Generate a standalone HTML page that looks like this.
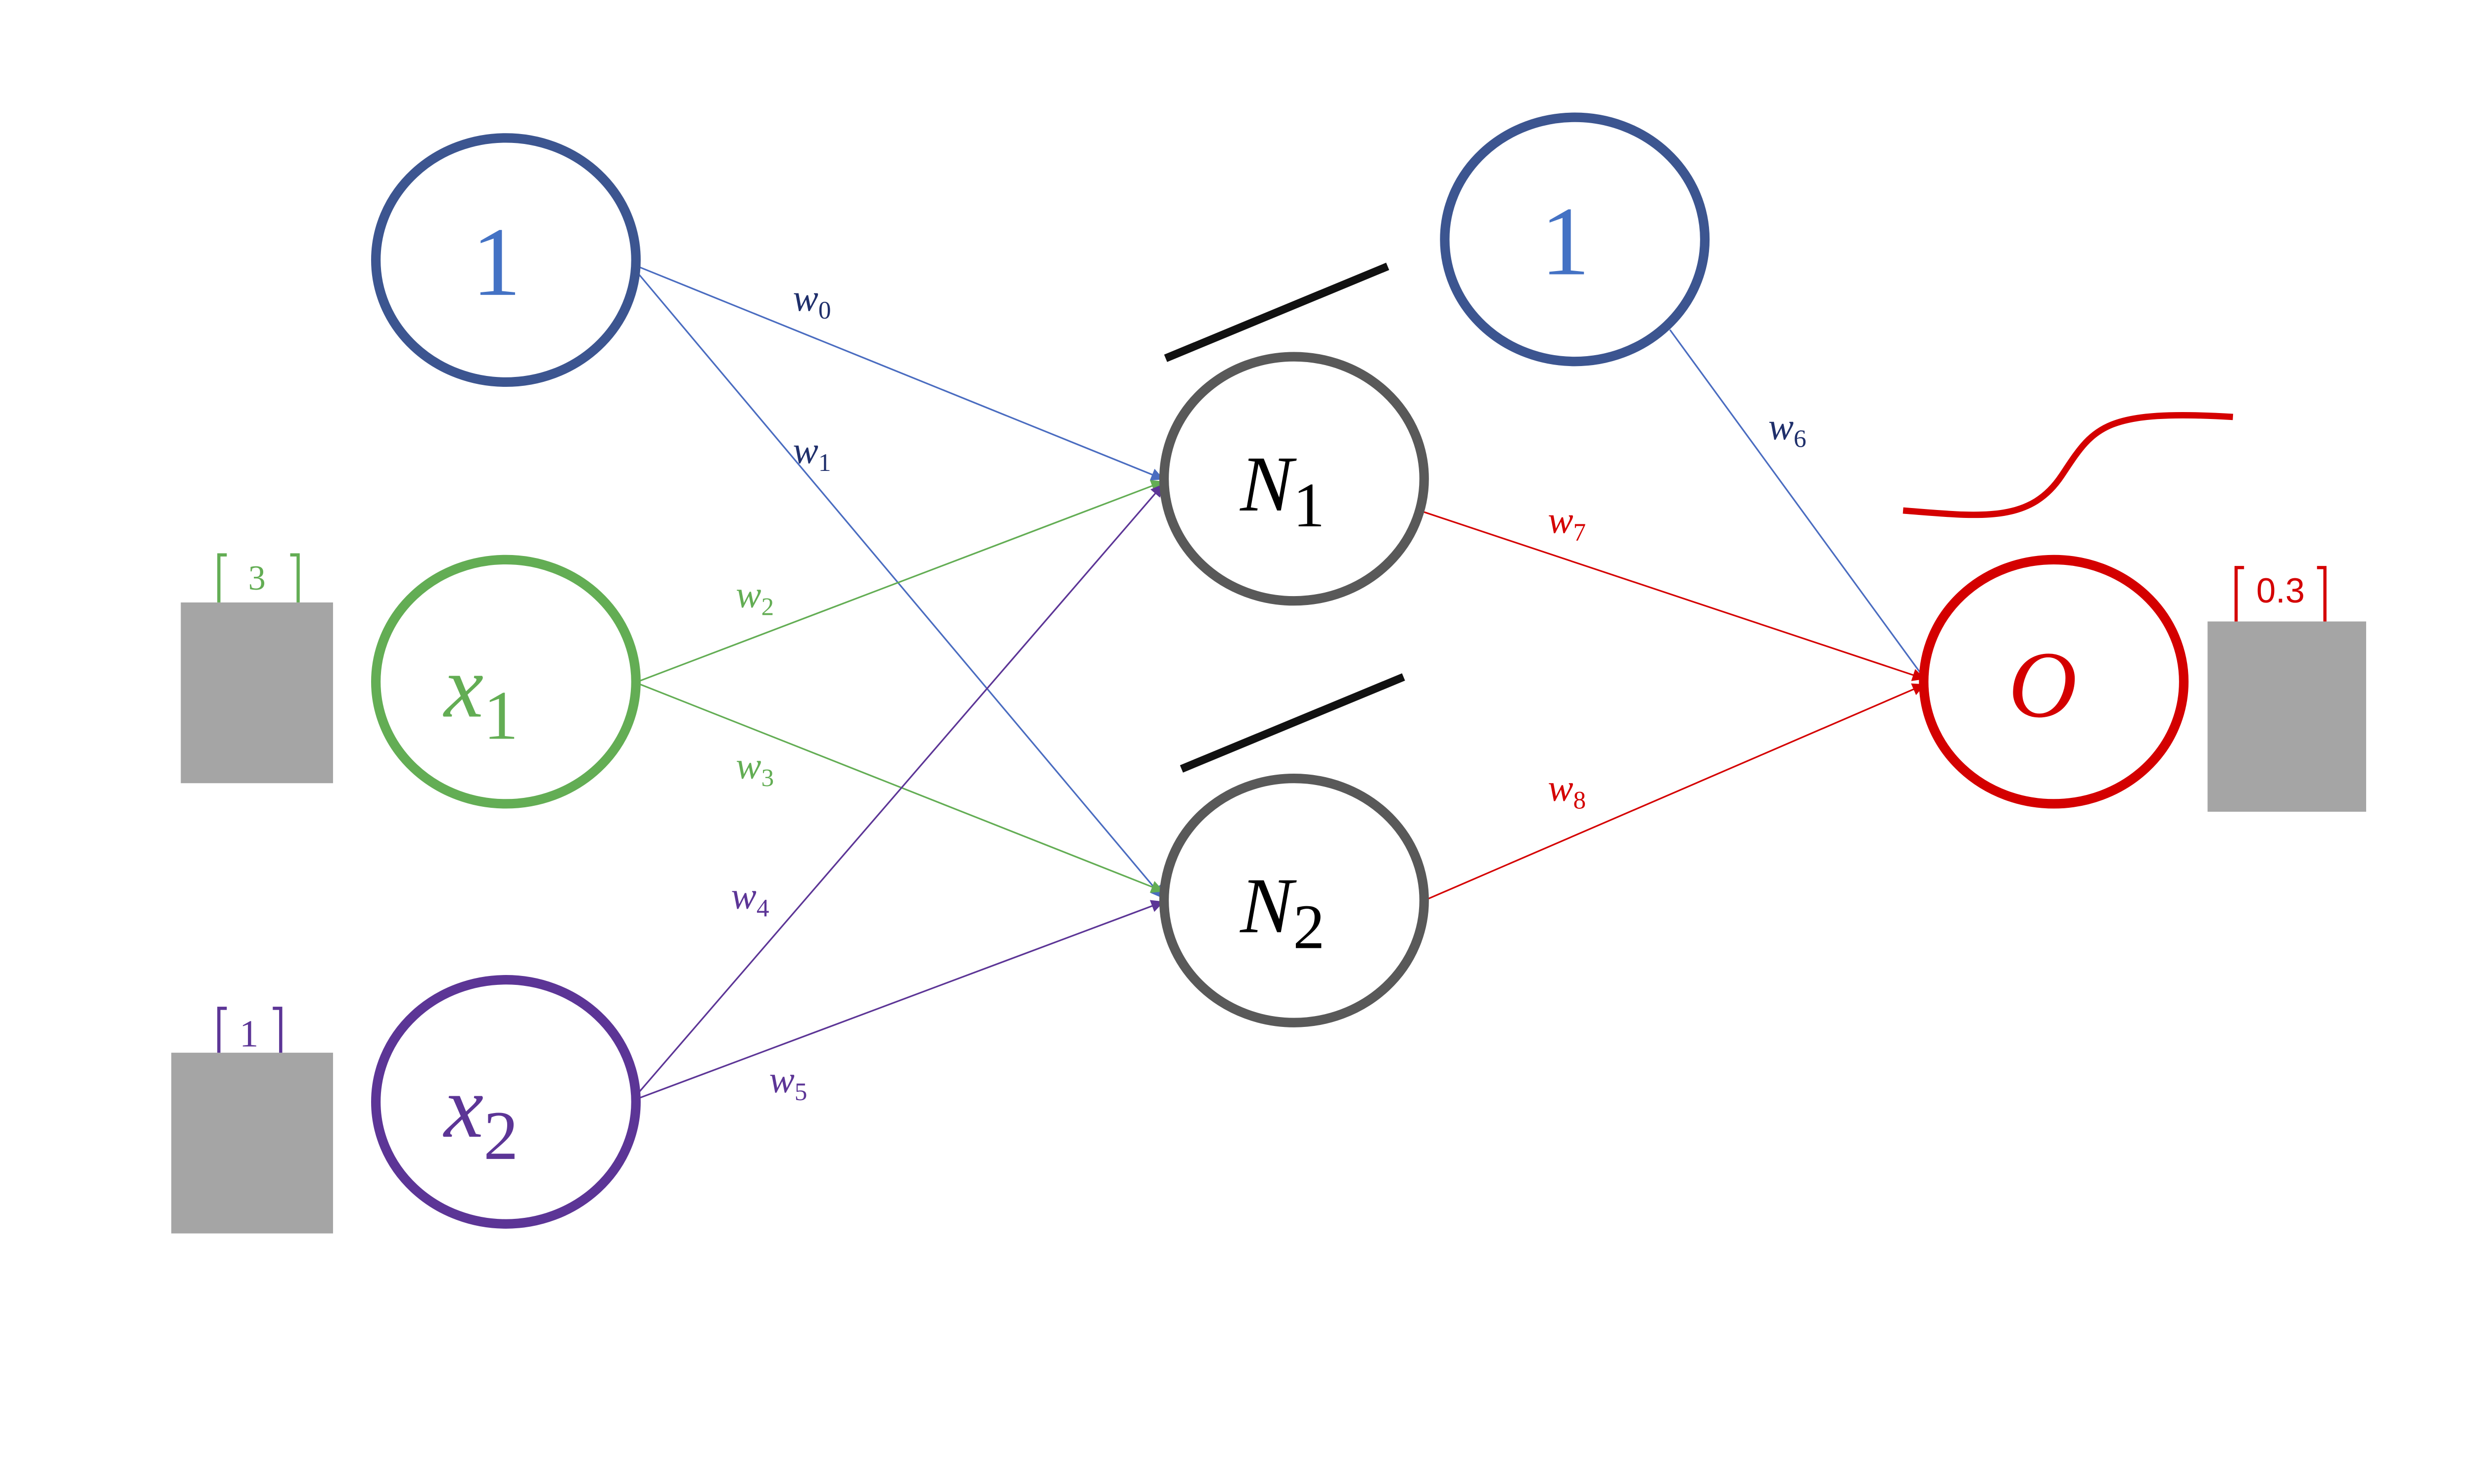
<!DOCTYPE html>
<html><head><meta charset="utf-8"><style>html,body{margin:0;padding:0;background:#fff;overflow:hidden}svg{display:block;width:100vw;height:56.254vw;position:absolute;left:0;top:0}</style></head>
<body>
<svg viewBox="0 0 1560 877.6" preserveAspectRatio="none" xmlns="http://www.w3.org/2000/svg">
<defs>
<marker id="ab" markerWidth="8" markerHeight="8" refX="7" refY="4" orient="auto" markerUnits="userSpaceOnUse"><path d="M0,0 L8,4 L0,8 z" fill="#4a6cc0"/></marker>
<marker id="ag" markerWidth="8" markerHeight="8" refX="7" refY="4" orient="auto" markerUnits="userSpaceOnUse"><path d="M0,0 L8,4 L0,8 z" fill="#63ad54"/></marker>
<marker id="ap" markerWidth="8" markerHeight="8" refX="7" refY="4" orient="auto" markerUnits="userSpaceOnUse"><path d="M0,0 L8,4 L0,8 z" fill="#5c3596"/></marker>
<marker id="ar" markerWidth="8" markerHeight="8" refX="7" refY="4" orient="auto" markerUnits="userSpaceOnUse"><path d="M0,0 L8,4 L0,8 z" fill="#d40000"/></marker>
</defs>
<rect width="1560" height="877.6" fill="#fff"/>
<rect x="114" y="380" width="96" height="114" fill="#a5a5a5"/>
<rect x="108" y="664" width="102" height="114" fill="#a5a5a5"/>
<rect x="1392" y="392" width="100" height="120" fill="#a5a5a5"/>
<path d="M143,350 H138 V380 M183,350 H188 V380" stroke="#63ad54" stroke-width="2" fill="none"/>
<text x="162" y="372" font-family="Liberation Serif, serif" font-size="22" fill="#63ad54" text-anchor="middle">3</text>
<path d="M143,636 H138 V664 M172,636 H177 V664" stroke="#5c3596" stroke-width="2" fill="none"/>
<text x="157" y="660" font-family="Liberation Serif, serif" font-size="24" fill="#5c3596" text-anchor="middle">1</text>
<path d="M1415,358 H1410 V392 M1461,358 H1466 V392" stroke="#d40000" stroke-width="2" fill="none"/>
<text x="1438" y="380" font-family="Liberation Sans, sans-serif" font-size="22" fill="#d40000" text-anchor="middle">0.3</text>
<g stroke-width="1" fill="none">
<line x1="402" y1="168" x2="733" y2="302" stroke="#4a6cc0" marker-end="url(#ab)"/>
<line x1="402" y1="172" x2="733" y2="566" stroke="#4a6cc0" marker-end="url(#ab)"/>
<line x1="402" y1="430" x2="733" y2="304" stroke="#63ad54" marker-end="url(#ag)"/>
<line x1="402" y1="431" x2="733" y2="562" stroke="#63ad54" marker-end="url(#ag)"/>
<line x1="402" y1="690" x2="733" y2="306" stroke="#5c3596" marker-end="url(#ap)"/>
<line x1="402" y1="693" x2="733" y2="569" stroke="#5c3596" marker-end="url(#ap)"/>
<line x1="1053" y1="208" x2="1215" y2="430" stroke="#4a6cc0" marker-end="url(#ab)"/>
<line x1="898" y1="323" x2="1213" y2="428" stroke="#d40000" marker-end="url(#ar)"/>
<line x1="898" y1="568" x2="1213" y2="432" stroke="#d40000" marker-end="url(#ar)"/>
</g>
<g fill="#fff" stroke-width="6">
<ellipse cx="319" cy="164" rx="82" ry="77" stroke="#3c5590"/>
<ellipse cx="319" cy="430" rx="82" ry="77" stroke="#63ad54"/>
<ellipse cx="319" cy="695" rx="82" ry="77" stroke="#5c3596"/>
<ellipse cx="816" cy="302" rx="82" ry="77" stroke="#595959"/>
<ellipse cx="816" cy="568" rx="82" ry="77" stroke="#595959"/>
<ellipse cx="993" cy="151" rx="82" ry="77" stroke="#3c5590"/>
<ellipse cx="1295" cy="430" rx="82" ry="77" stroke="#d40000"/>
</g>
<g font-family="Liberation Serif, serif">
<text x="313" y="186" font-size="62" fill="#4472c4" text-anchor="middle">1</text>
<text x="987" y="173" font-size="62" fill="#4472c4" text-anchor="middle">1</text>
<text x="280" y="452" font-size="56" font-style="italic" fill="#63ad54">x<tspan font-style="normal" font-size="44" dy="14">1</tspan></text>
<text x="280" y="717" font-size="56" font-style="italic" fill="#5c3596">x<tspan font-style="normal" font-size="44" dy="14">2</tspan></text>
<text x="782" y="322" font-size="50" font-style="italic" fill="#000">N<tspan font-style="normal" font-size="40" dy="10">1</tspan></text>
<text x="782" y="588" font-size="50" font-style="italic" fill="#000">N<tspan font-style="normal" font-size="40" dy="10">2</tspan></text>
<text x="1288" y="452" font-size="60" font-style="italic" fill="#d40000" text-anchor="middle">O</text>
</g>
<g font-family="Liberation Serif, serif" font-size="24" font-style="italic">
<text x="500" y="196" fill="#1f2f6b">w<tspan font-style="normal" font-size="16" dy="5">0</tspan></text>
<text x="500" y="292" fill="#1f2f6b">w<tspan font-style="normal" font-size="16" dy="5">1</tspan></text>
<text x="464" y="383" fill="#63ad54">w<tspan font-style="normal" font-size="16" dy="5">2</tspan></text>
<text x="464" y="491" fill="#63ad54">w<tspan font-style="normal" font-size="16" dy="5">3</tspan></text>
<text x="461" y="573" fill="#5c3596">w<tspan font-style="normal" font-size="16" dy="5">4</tspan></text>
<text x="485" y="689" fill="#5c3596">w<tspan font-style="normal" font-size="16" dy="5">5</tspan></text>
<text x="1115" y="277" fill="#1f2f6b">w<tspan font-style="normal" font-size="16" dy="5">6</tspan></text>
<text x="976" y="336" fill="#d40000">w<tspan font-style="normal" font-size="16" dy="5">7</tspan></text>
<text x="976" y="505" fill="#d40000">w<tspan font-style="normal" font-size="16" dy="5">8</tspan></text>
</g>
<line x1="735" y1="226" x2="875" y2="168" stroke="#111" stroke-width="5"/>
<line x1="745" y1="485" x2="885" y2="427" stroke="#111" stroke-width="5"/>
<path d="M1200,322 C1250,326 1280,330 1300,300 C1320,270 1325,258 1408,263" stroke="#d40000" stroke-width="4" fill="none"/>
</svg>
</body></html>
